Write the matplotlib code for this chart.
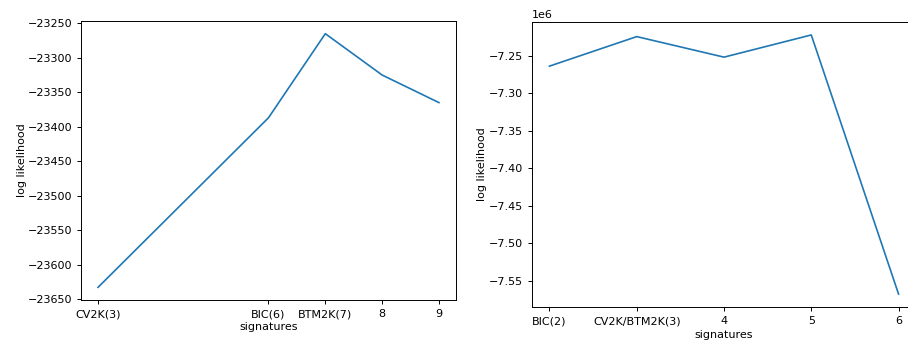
import matplotlib
matplotlib.use("Agg")
import matplotlib.pyplot as plt

# left panel data
left_x = [3, 6, 7, 8, 9]
left_labels = ["CV2K(3)", "BIC(6)", "BTM2K(7)", "8", "9"]
left_ll = [-23633, -23387, -23265, -23325, -23365]

# right panel data
right_x = [2, 3, 4, 5, 6]
right_labels = ["BIC(2)", "CV2K/BTM2K(3)", "4", "5", "6"]
right_ll = [-7263700, -7224300, -7251700, -7222100, -7567700]

plt.rcParams['font.size'] = 8
plt.rcParams['axes.linewidth'] = 0.7
plt.rcParams['xtick.major.width'] = 0.7
plt.rcParams['ytick.major.width'] = 0.7
plt.rcParams['xtick.major.size'] = 3
plt.rcParams['ytick.major.size'] = 3

W, H = 908, 341
fig = plt.figure(figsize=(W / 100, H / 100), dpi=100)

ax1 = fig.add_axes([81 / W, 1 - 300 / H, 375 / W, 279 / H])
ax1.plot(left_x, left_ll, color="#1f77b4", linewidth=1.2)
ax1.set_xticks(left_x)
ax1.set_xticklabels(left_labels)
ax1.set_xlabel("signatures", labelpad=2)
ax1.set_ylabel("log likelihood", labelpad=0.5)

# right panel is cut off by the image edge in the reference
ax2 = fig.add_axes([532 / W, 1 - 307 / H, 384 / W, 285 / H])
ax2.plot(right_x, right_ll, color="#1f77b4", linewidth=1.2)
ax2.set_xticks(right_x)
ax2.set_xticklabels(right_labels)
ax2.set_xlabel("signatures", labelpad=2.5)
ax2.set_ylabel("log likelihood", labelpad=1)

fig.savefig("out.png", dpi=100)
